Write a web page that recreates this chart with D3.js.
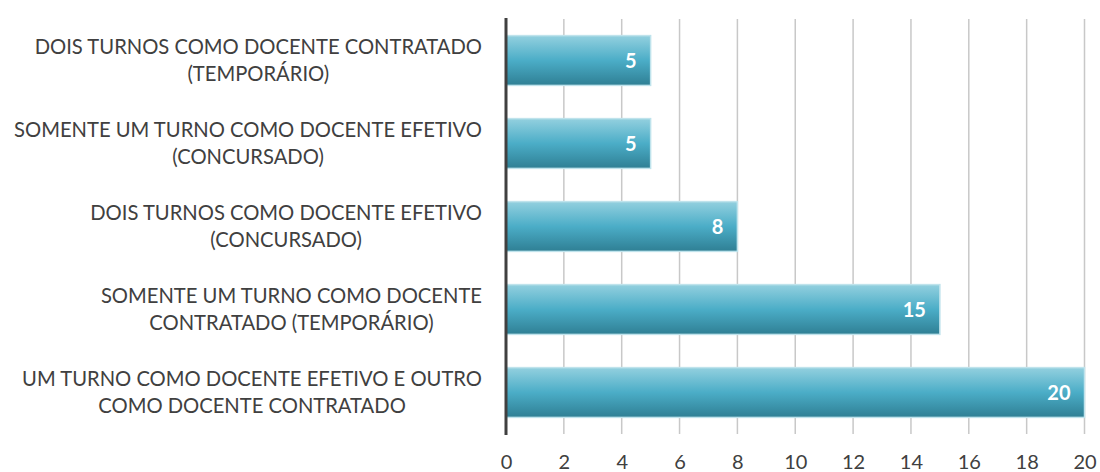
<!DOCTYPE html>
<html><head><meta charset="utf-8">
<script src="https://cdn.jsdelivr.net/npm/d3@7"></script>
<style>body{margin:0;background:#fff}svg{display:block}</style>
</head><body>
<svg id="c" width="1100" height="472"></svg>
<script>
const categories = [
  ["DOIS TURNOS COMO DOCENTE CONTRATADO", "(TEMPORÁRIO)"],
  ["SOMENTE UM TURNO COMO DOCENTE EFETIVO", "(CONCURSADO)"],
  ["DOIS TURNOS COMO DOCENTE EFETIVO", "(CONCURSADO)"],
  ["SOMENTE UM TURNO COMO DOCENTE", "CONTRATADO (TEMPORÁRIO)"],
  ["UM TURNO COMO DOCENTE EFETIVO E OUTRO", "COMO DOCENTE CONTRATADO"]
];
const values = [5, 5, 8, 15, 20];
const tickValues = [0, 2, 4, 6, 8, 10, 12, 14, 16, 18, 20];

const svg = d3.select("#c");
const font = "Lato, 'Open Sans', sans-serif";
const x = d3.scaleLinear().domain([0, 20]).range([506, 1084.5]);
const y = d3.scaleBand().domain(d3.range(categories.length)).range([19, 434]).paddingInner(0.4).paddingOuter(0.2);

const defs = svg.append("defs");
const g = defs.append("linearGradient").attr("id", "bg").attr("x1", 0).attr("x2", 0).attr("y1", 0).attr("y2", 1);
g.append("stop").attr("offset", "0%").attr("stop-color", "#93d0df");
g.append("stop").attr("offset", "50%").attr("stop-color", "#4badc7");
g.append("stop").attr("offset", "100%").attr("stop-color", "#2f7f94");

// gridlines
svg.append("g").selectAll("line").data(tickValues.slice(1)).join("line")
  .attr("x1", d => x(d)).attr("x2", d => x(d))
  .attr("y1", 19).attr("y2", 434)
  .attr("stroke", "#c8c8c8").attr("stroke-width", 1.5);

// x axis labels
const xAxis = d3.axisBottom(x).tickValues(tickValues).tickSize(0).tickPadding(0);
const ax = svg.append("g").attr("transform", "translate(0,455)").call(xAxis);
ax.select(".domain").remove();
ax.selectAll("text").attr("font-family", font).attr("font-size", 20).attr("fill", "#404040").attr("dy", "0.71em");

// bars
svg.append("g").selectAll("rect").data(values).join("rect")
  .attr("x", x(0)).attr("y", (d, i) => y(i))
  .attr("width", d => x(d) - x(0)).attr("height", y.bandwidth())
  .attr("fill", "url(#bg)").attr("stroke", "#bfe3ec").attr("stroke-width", 1.5);

// value labels
svg.append("g").selectAll("text").data(values).join("text")
  .attr("x", d => x(d) - 14).attr("y", (d, i) => y(i) + y.bandwidth() / 2)
  .attr("dy", "0.36em").attr("text-anchor", "end")
  .attr("font-family", font).attr("font-size", 20).attr("font-weight", "bold").attr("fill", "#fff")
  .text(d => d);

// category labels
const lab = svg.append("g");
categories.forEach((lines, i) => {
  const cy = y(i) + y.bandwidth() / 2;
  const t = lab.append("text").attr("font-family", font).attr("font-size", 20.2).attr("fill", "#404040").attr("text-anchor", "middle");
  lines.forEach((l, j) => {
    t.append("tspan").attr("y", cy + (j - 0.5) * 27).attr("dy", "0.36em").text(l);
  });
  let maxW = 0;
  t.selectAll("tspan").each(function () { maxW = Math.max(maxW, this.getComputedTextLength()); });
  t.selectAll("tspan").attr("x", 482 - maxW / 2);
});

// axis line
svg.append("line").attr("x1", x(0)).attr("x2", x(0)).attr("y1", 18).attr("y2", 435)
  .attr("stroke", "#404040").attr("stroke-width", 3);
</script>
</body></html>
